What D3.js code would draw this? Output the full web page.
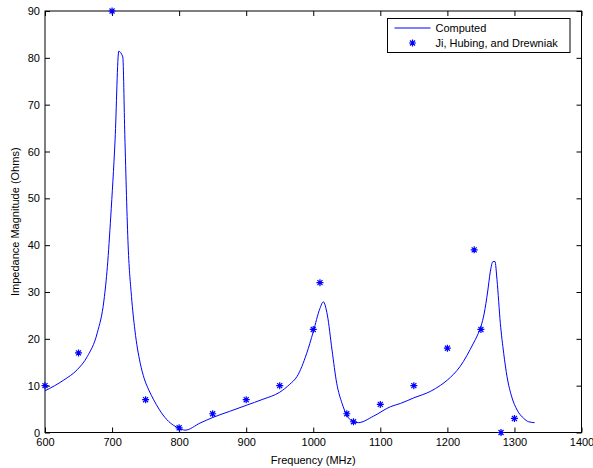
<!DOCTYPE html>
<html lang="en">
<head>
<meta charset="UTF-8">
<script src="https://d3js.org/d3.v7.min.js"></script>
<style>
  body { margin: 0; padding: 0; background: #fff; }
  svg { display: block; font-family: "Liberation Sans", Arial, sans-serif; }
  .axis text { font-size: 11px; fill: #000; }
  .axis line, .axis path { stroke: #000; }
</style>
</head>
<body>
<svg id="chart" width="593" height="468"></svg>
<script>
// computed curve
const computedFreq = [600, 628, 648, 663, 678, 688, 693, 698, 704.5, 710, 716, 719, 724, 729, 734, 742, 748, 755, 762, 770, 782, 792, 800, 809, 831, 850, 875, 900, 925, 950, 965, 976, 990, 1000, 1010, 1015, 1021, 1028, 1035, 1043, 1050, 1060, 1067, 1090, 1115, 1130, 1150, 1175, 1190, 1200, 1219, 1239, 1245, 1250, 1255, 1260, 1264, 1268, 1271, 1274, 1279, 1284, 1289, 1296, 1304, 1314, 1321, 1330];
const computedVal = [8.9, 11.2, 13.4, 16.2, 21.3, 28.3, 35.4, 46, 62.5, 81.4, 80.2, 63.6, 39.8, 29, 21.9, 14.8, 11.5, 9.0, 7.0, 5.0, 2.7, 1.5, 0.9, 0.5, 2.0, 3.2, 4.5, 5.8, 7.1, 8.6, 10.3, 12, 16.8, 21.5, 26.5, 27.9, 25.1, 17.6, 10.5, 6.2, 3.7, 2.3, 2.1, 3.5, 5.5, 6.2, 7.4, 8.8, 10.1, 11.2, 14.1, 19.1, 20.8, 22.6, 25.5, 30, 34.3, 36.5, 36.5, 32.6, 23.3, 16.9, 11.9, 7.6, 4.8, 3.0, 2.3, 2.1];

// measured points (Ji, Hubing, and Drewniak)
const measFreq = [600, 650, 700, 750, 800, 850, 900, 950, 1000, 1010, 1050, 1060, 1100, 1150, 1200, 1240, 1250, 1280, 1300];
const measVal = [10, 17, 90, 7, 1, 4, 7, 10, 22, 32, 4, 2.3, 6, 10, 18, 39, 22, 0, 3];

const xTicks = [600, 700, 800, 900, 1000, 1100, 1200, 1300, 1400];
const yTicks = [0, 10, 20, 30, 40, 50, 60, 70, 80, 90];

const margin = { top: 11, right: 11.5, bottom: 35.5, left: 45 };
const W = 593, H = 468;
const width = W - margin.left - margin.right;
const height = H - margin.top - margin.bottom;

const svg = d3.select("#chart");
const g = svg.append("g").attr("transform", `translate(${margin.left},${margin.top})`);

const x = d3.scaleLinear().domain([600, 1400]).range([0, width]);
const y = d3.scaleLinear().domain([0, 90]).range([height, 0]);
const fmt = d3.format("d");

// axes with inward ticks on all four sides
g.append("g").attr("class", "axis")
  .attr("transform", `translate(0,${height})`)
  .call(d3.axisBottom(x).tickValues(xTicks).tickFormat(fmt).tickSizeInner(-5).tickSizeOuter(0).tickPadding(6))
  .call(a => a.select(".domain").remove());
g.append("g").attr("class", "axis")
  .call(d3.axisTop(x).tickValues(xTicks).tickSizeInner(-5).tickSizeOuter(0).tickFormat(""))
  .call(a => a.select(".domain").remove());
g.append("g").attr("class", "axis")
  .call(d3.axisLeft(y).tickValues(yTicks).tickFormat(fmt).tickSizeInner(-5).tickSizeOuter(0).tickPadding(5))
  .call(a => a.select(".domain").remove());
g.append("g").attr("class", "axis")
  .attr("transform", `translate(${width},0)`)
  .call(d3.axisRight(y).tickValues(yTicks).tickSizeInner(-5).tickSizeOuter(0).tickFormat(""))
  .call(a => a.select(".domain").remove());

g.append("rect")
  .attr("width", width).attr("height", height)
  .attr("fill", "none").attr("stroke", "#000").attr("stroke-width", 1);

// computed line
const lineData = computedFreq.map((f, i) => [f, computedVal[i]]);
g.append("path")
  .datum(lineData)
  .attr("fill", "none")
  .attr("stroke", "#0000ff")
  .attr("stroke-width", 1)
  .attr("d", d3.line().curve(d3.curveMonotoneX).x(d => x(d[0])).y(d => y(d[1])));

// asterisk marker like matlab '*'
function star(cx, cy, r) {
  const d = r * 0.72;
  return `M${cx - r},${cy}L${cx + r},${cy}M${cx},${cy - r}L${cx},${cy + r}` +
    `M${cx - d},${cy - d}L${cx + d},${cy + d}M${cx - d},${cy + d}L${cx + d},${cy - d}`;
}

const measData = measFreq.map((f, i) => [f, measVal[i]]);
g.selectAll(".meas")
  .data(measData)
  .enter()
  .append("path")
  .attr("class", "meas")
  .attr("d", d => star(x(d[0]), y(d[1]), 3.5))
  .attr("stroke", "#0000ff")
  .attr("stroke-width", 1.2)
  .attr("fill", "none");

// axis labels
svg.append("text")
  .attr("x", margin.left + width / 2)
  .attr("y", 464)
  .attr("text-anchor", "middle")
  .attr("font-size", 11)
  .text("Frequency (MHz)");

svg.append("text")
  .attr("transform", `translate(19,${margin.top + height / 2}) rotate(-90)`)
  .attr("text-anchor", "middle")
  .attr("font-size", 11)
  .text("Impedance Magnitude (Ohms)");

// legend
const leg = svg.append("g").attr("transform", "translate(387.5,18.5)");
leg.append("rect")
  .attr("width", 182.5).attr("height", 34)
  .attr("fill", "#fff").attr("stroke", "#000");
leg.append("line")
  .attr("x1", 7).attr("x2", 43).attr("y1", 9.5).attr("y2", 9.5)
  .attr("stroke", "#0000ff");
leg.append("text").attr("x", 48).attr("y", 13.5).attr("font-size", 11).text("Computed");
leg.append("path").attr("d", star(25, 24.5, 3.5)).attr("stroke", "#0000ff").attr("stroke-width", 1.2).attr("fill", "none");
leg.append("text").attr("x", 48).attr("y", 28.5).attr("font-size", 11).text("Ji, Hubing, and Drewniak");
</script>
</body>
</html>
